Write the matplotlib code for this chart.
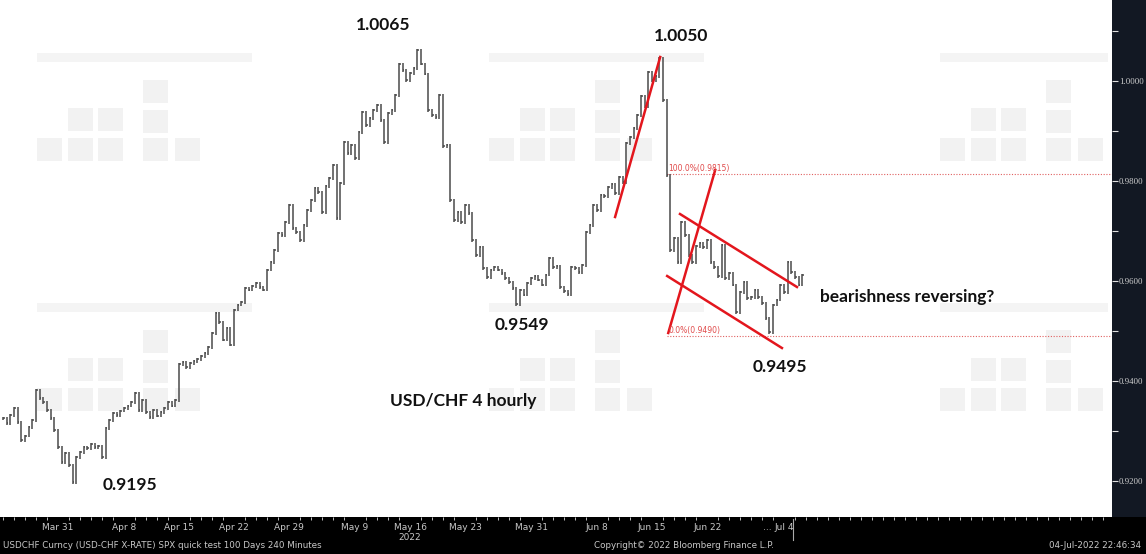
import numpy as np
import matplotlib.pyplot as plt
from matplotlib.collections import LineCollection
from matplotlib.patches import Rectangle

# USD/CHF closes, 3 bars per trading day starting 24 Mar 2022
closes = [
    0.9326, 0.9316, 0.9332, 0.9346, 0.9318, 0.9282, 0.9290, 0.9308, 0.9322, 0.9382,
    0.9366, 0.9358, 0.9342, 0.9326, 0.9302, 0.9268, 0.9238, 0.9256, 0.9232, 0.9198,
    0.9248, 0.9258, 0.9268, 0.9266, 0.9274, 0.9268, 0.9270, 0.9248, 0.9306, 0.9322,
    0.9336, 0.9332, 0.9340, 0.9346, 0.9350, 0.9358, 0.9376, 0.9342, 0.9362, 0.9338,
    0.9328, 0.9342, 0.9330, 0.9338, 0.9346, 0.9358, 0.9350, 0.9362, 0.9434, 0.9438,
    0.9428, 0.9436, 0.9440, 0.9444, 0.9450, 0.9456, 0.9468, 0.9496, 0.9536, 0.9518,
    0.9482, 0.9506, 0.9472, 0.9542, 0.9552, 0.9558, 0.9586, 0.9582, 0.9590, 0.9596,
    0.9588, 0.9582, 0.9622, 0.9638, 0.9662, 0.9696, 0.9692, 0.9718, 0.9752, 0.9706,
    0.9698, 0.9682, 0.9712, 0.9742, 0.9762, 0.9786, 0.9778, 0.9738, 0.9790, 0.9806,
    0.9832, 0.9726, 0.9796, 0.9878, 0.9856, 0.9872, 0.9846, 0.9898, 0.9938, 0.9912,
    0.9926, 0.9942, 0.9952, 0.9922, 0.9878, 0.9936, 0.9942, 0.9972, 1.0034, 1.0022,
    1.0002, 1.0016, 1.0026, 1.0062, 1.0034, 1.0014, 0.9942, 0.9932, 0.9928, 0.9972,
    0.9870, 0.9872, 0.9762, 0.9722, 0.9738, 0.9718, 0.9752, 0.9736, 0.9682, 0.9652,
    0.9668, 0.9626, 0.9608, 0.9622, 0.9628, 0.9622, 0.9616, 0.9606, 0.9598, 0.9586,
    0.9554, 0.9582, 0.9572, 0.9596, 0.9606, 0.9610, 0.9602, 0.9592, 0.9612, 0.9646,
    0.9628, 0.9630, 0.9588, 0.9580, 0.9574, 0.9628, 0.9626, 0.9618, 0.9632, 0.9698,
    0.9712, 0.9752, 0.9742, 0.9772, 0.9770, 0.9788, 0.9794, 0.9776, 0.9808, 0.9798,
    0.9876, 0.9888, 0.9906, 0.9932, 0.9970, 0.9950, 1.0018, 1.0002, 1.0010, 1.0046,
    0.9962, 0.9812, 0.9662, 0.9686, 0.9638, 0.9718, 0.9692, 0.9652, 0.9638, 0.9670,
    0.9676, 0.9668, 0.9682, 0.9638, 0.9628, 0.9610, 0.9672, 0.9606, 0.9616, 0.9592,
    0.9538, 0.9578, 0.9598, 0.9566, 0.9568, 0.9582, 0.9568, 0.9556, 0.9526, 0.9498,
    0.9552, 0.9562, 0.9592, 0.9578, 0.9638, 0.9618, 0.9608, 0.9592, 0.9612,
]
bars_per_day = 3

# x-axis labels (trading day index from 24 Mar)
tick_days = [5, 11, 16, 21, 26, 32, 37, 42, 48, 54, 59, 64, 69.5, 71]
tick_labels = ['Mar 31', 'Apr 8', 'Apr 15', 'Apr 22', 'Apr 29', 'May 9', 'May 16\n2022',
               'May 23', 'May 31', 'Jun 8', 'Jun 15', 'Jun 22', '...', 'Jul 4']
y_ticks = [0.92, 0.94, 0.96, 0.98, 1.00]

# annotations: (text, bar, price)
labels = [
    ('1.0065', 103.6, 1.0112),
    ('1.0050', 184.9, 1.0090),
    ('0.9549', 141.5, 0.9512),
    ('0.9495', 211.9, 0.9428),
    ('0.9195', 34.6, 0.9192),
    ('USD/CHF 4 hourly', 125.4, 0.9360),
    ('bearishness reversing?', 246.5, 0.9568),
]
# analyst trend lines: (bar0, bar1, price0, price1)
trend_lines = [
    (166.9, 179.2, 0.9728, 1.0048),
    (181.4, 194.2, 0.9496, 0.9822),
    (184.6, 216.5, 0.9734, 0.9588),
    (181.1, 212.4, 0.9610, 0.9466),
]
fib_levels = [(0.9815, '100.0%(0.9815)'), (0.9490, '0.0%(0.9490)')]
fib_start = 181.0

W, H = 1146, 554
fig = plt.figure(figsize=(W / 100, H / 100), dpi=100, facecolor='black')

# background: white plot area and dark price panel
def fig_rect(x, y, w, h, c, z):
    fig.patches.append(Rectangle((x / W, 1 - (y + h) / H), w / W, h / H,
                                 transform=fig.transFigure, facecolor=c,
                                 edgecolor='none', zorder=z))

fig_rect(0, 0, 1112, 517, 'white', -3)
fig_rect(1112, 0, 34, 517, '#121823', -3)

# faint watermark blocks
squares = [(106, 27), (31, 55), (61, 55), (106, 57), (0, 85), (31, 85), (61, 85), (106, 85), (138, 85)]
for x0 in [37, 489, 940]:
    for y0 in [53, 303]:
        fig_rect(x0, y0, min(215, 1108 - x0), 9, '#f4f4f4', -2)
        for dx, dy in squares:
            if x0 + dx + 25 < 1108:
                fig_rect(x0 + dx, y0 + dy, 25, 23, '#f2f2f2', -2)

ax = fig.add_axes([0, 37 / H, 1112 / W, 517 / H])
ax.set_zorder(2)
ax.patch.set_alpha(0)

# price bars
c = np.array(closes)
o = np.concatenate([[c[0]], c[:-1]])
segs = []
for i in range(len(c)):
    segs.append([(i, min(o[i], c[i]) - 0.0003), (i, max(o[i], c[i]) + 0.0003)])
    segs.append([(i, c[i]), (i + 0.45, c[i])])
ax.add_collection(LineCollection(segs, colors='#4a4a4a', linewidths=1.1, zorder=2))

for b0, b1, p0, p1 in trend_lines:
    ax.plot([b0, b1], [p0, p1], color='#e3161d', lw=1.8, zorder=3)

for lvl, txt in fib_levels:
    ax.plot([fib_start, 310], [lvl, lvl], color='#e06060', lw=0.8, ls=(0, (1, 1.5)), zorder=1)
    ax.text(fib_start + 0.5, lvl + 0.0002, txt, color='#e04a4a', fontsize=5.5,
            ha='left', va='bottom', zorder=3)

for txt, b, p in labels:
    ax.text(b, p, txt, fontsize=12.5, fontweight='bold', family='Lato', color='#111111',
            ha='center', va='center', zorder=4)

ax.set_xlim(-0.82, 302.4)
ax.set_ylim(0.9128, 1.0162)

ax.yaxis.tick_right()
ax.set_yticks(y_ticks)
ax.set_yticklabels([f'{v:.4f}' for v in y_ticks], fontsize=6.3, color='#d0d0d0',
                   family='Liberation Serif')
ax.set_yticks([0.93, 0.95, 0.97, 0.99, 1.01], minor=True)
ax.tick_params(axis='y', which='both', direction='out', color='#e0e0e0', length=4, width=0.8, pad=1)

ax.set_xticks([d * bars_per_day for d in tick_days])
ax.set_xticklabels(tick_labels, fontsize=6.5, color='#c8c8c8')
ax.set_xticks(np.arange(0, 101) * bars_per_day, minor=True)
ax.tick_params(axis='x', which='major', length=0, pad=4)
ax.tick_params(axis='x', which='minor', direction='out', color='#e0e0e0', length=2.5, width=0.6)
for s in ax.spines.values():
    s.set_visible(False)

# current date marker
fig.add_artist(plt.Line2D([793 / W, 793 / W], [(554 - 519) / H, (554 - 540) / H],
                          transform=fig.transFigure, color='#aaaaaa', lw=0.8))

fig.text(3 / W, 1 - 546 / H, 'USDCHF Curncy (USD-CHF X-RATE) SPX quick test 100 Days 240 Minutes',
         fontsize=6.3, color='#c8c8c8', va='center')
fig.text(594 / W, 1 - 546 / H, 'Copyright\u00a9 2022 Bloomberg Finance L.P.',
         fontsize=6.3, color='#c8c8c8', va='center')
fig.text(1141 / W, 1 - 546 / H, '04-Jul-2022 22:46:34',
         fontsize=6.3, color='#c8c8c8', va='center', ha='right')

fig.savefig('out.png', dpi=100, facecolor='black')
